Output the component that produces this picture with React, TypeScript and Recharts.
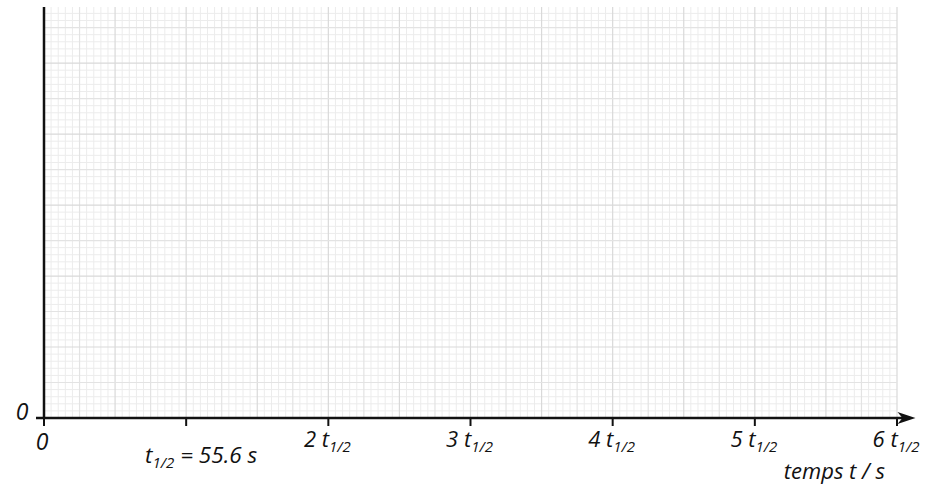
import React from 'react'
import { ComposedChart, XAxis, YAxis, ReferenceLine } from 'recharts'

// demi-vie en secondes
const halfLife = 55.6
const tickMultiples = [0, 1, 2, 3, 4, 5, 6]
const tickLabels = ['0', 't1/2 = 55.6 s', '2 t1/2', '3 t1/2', '4 t1/2', '5 t1/2', '6 t1/2']
const yTicks = [0]
const yLabels = ['0']
const xAxisTitle = 'temps t / s'

// papier millimetré : 20 petits carreaux par demi-vie, 10 par gros carreau
const xGridSteps = Array.from({ length: 121 }, (_, i) => i)
const yGridSteps = Array.from({ length: 59 }, (_, i) => i)

const W = 928
const H = 488
const FONT = '"Open Sans", "DejaVu Sans", sans-serif'
const xMax = 6 * halfLife
const yMax = 57.9

const gridColor = (i: number) => (i % 10 === 0 ? '#d9d9d9' : i % 5 === 0 ? '#e3e3e3' : '#ececec')

function XTick(props: any) {
  const { x, y, index } = props
  const label = tickLabels[index] ?? ''
  if (index === 0) {
    return (
      <text x={x - 2} y={y + 22} fontFamily={FONT} fontStyle="italic" fontSize={23} fill="#111" textAnchor="middle">0</text>
    )
  }
  if (index === 1) {
    return (
      <text x={x + 15} y={y + 35} fontFamily={FONT} fontStyle="italic" fontSize={22.5} fill="#111" textAnchor="middle">
        t<tspan fontSize={15} dy={5}>1/2</tspan><tspan dy={-5}> = 55.6 s</tspan>
      </text>
    )
  }
  const [n] = label.split(' ')
  return (
    <text x={x - 1} y={y + 19} fontFamily={FONT} fontStyle="italic" fontSize={22} fill="#111" textAnchor="middle">
      {n} t<tspan fontSize={15} dy={5}>1/2</tspan>
    </text>
  )
}

function YTick(props: any) {
  const { x, y, index } = props
  return (
    <text x={x - 14} y={y + 2} fontFamily={FONT} fontStyle="italic" fontSize={23} fill="#111" textAnchor="middle">{yLabels[index]}</text>
  )
}

function ArrowAxis(props: any) {
  const { x1, y1, x2, y2 } = props
  return (
    <g>
      <line x1={x1 - 8} y1={y1} x2={x2 - 8} y2={y2} stroke="#111" strokeWidth={2.5} />
      <polygon points={`${x2},${y2} ${x2 - 18},${y2 - 6} ${x2 - 13},${y2} ${x2 - 18},${y2 + 6}`} fill="#111" />
    </g>
  )
}

export default function App() {
  return (
    <div style={{ position: 'absolute', left: 0, top: 0, width: W, height: H, background: '#fff' }}>
      <ComposedChart width={W} height={H} data={[]} margin={{ top: 7, right: 31, bottom: 0, left: 0 }}>
        <XAxis
          type="number"
          dataKey="t"
          domain={[0, xMax]}
          ticks={tickMultiples.map((k) => k * halfLife)}
          tick={<XTick />}
          tickLine={{ stroke: '#111', strokeWidth: 2 }}
          tickSize={8}
          axisLine={false}
          height={70}
          interval={0}
          allowDataOverflow
        />
        <YAxis
          type="number"
          domain={[0, yMax]}
          ticks={yTicks}
          tick={<YTick />}
          tickLine={false}
          axisLine={{ stroke: '#111', strokeWidth: 2.5 }}
          width={44}
          allowDataOverflow
        />
        {xGridSteps.filter((i) => i % 5 !== 0).map((i) => (
          <ReferenceLine key={'vx' + i} x={(i * halfLife) / 20} stroke={gridColor(i)} strokeWidth={1} />
        ))}
        {yGridSteps.filter((i) => i % 5 !== 0).map((i) => (
          <ReferenceLine key={'hy' + i} y={i} stroke={gridColor(i)} strokeWidth={1} />
        ))}
        {xGridSteps.filter((i) => i % 5 === 0 && i > 0).map((i) => (
          <ReferenceLine key={'Vx' + i} x={(i * halfLife) / 20} stroke={gridColor(i)} strokeWidth={1.2} />
        ))}
        {yGridSteps.filter((i) => i % 5 === 0 && i > 0).map((i) => (
          <ReferenceLine key={'Hy' + i} y={i} stroke={gridColor(i)} strokeWidth={1.2} />
        ))}
        <ReferenceLine
          segment={[{ x: 0, y: 0 }, { x: xMax + 0.13 * halfLife, y: 0 }]}
          ifOverflow="visible"
          shape={<ArrowAxis />}
        />
        <text x={885} y={479} fontFamily={FONT} fontStyle="italic" fontSize={22} fill="#111" textAnchor="end">{xAxisTitle}</text>
      </ComposedChart>
    </div>
  )
}
